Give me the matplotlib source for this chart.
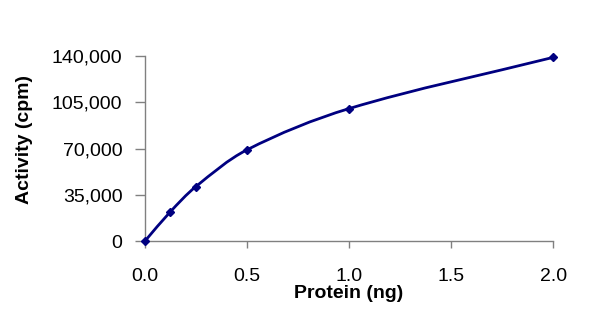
import matplotlib
matplotlib.use("Agg")
import matplotlib.pyplot as plt
import numpy as np
from matplotlib.path import Path
from matplotlib.patches import PathPatch
from matplotlib.ticker import FuncFormatter

protein = [0.0, 0.125, 0.25, 0.5, 1.0, 2.0]
activity = [0, 22200, 41200, 68900, 100000, 138600]
xticks = [0.0, 0.5, 1.0, 1.5, 2.0]
yticks = [0, 35000, 70000, 105000, 140000]

plt.rcParams['font.family'] = ['Liberation Sans', 'DejaVu Sans']
navy = '#000080'


# Smoothed line: cubic Bezier segments, tangents scaled by chord length
# (worked out in screen-like units so the curve looks even)
def smoothPath(xs, ys, sx, sy):
    pts = np.column_stack([np.array(xs) * sx, np.array(ys) * sy]).astype(float)
    n = len(pts)
    tans = []
    for i in range(n):
        d = pts[min(i + 1, n - 1)] - pts[max(i - 1, 0)]
        tans.append(d / np.hypot(*d))
    verts = [pts[0]]
    codes = [Path.MOVETO]
    for i in range(n - 1):
        L = np.hypot(*(pts[i + 1] - pts[i])) / 3.0
        verts.extend([pts[i] + tans[i] * L, pts[i + 1] - tans[i + 1] * L,
                      pts[i + 1]])
        codes.extend([Path.CURVE4] * 3)
    verts = np.array(verts) / [sx, sy]
    return Path(verts, codes)


fig = plt.figure(figsize=(6.0, 3.11), dpi=100)
ax = fig.add_axes([0.241, 0.2235, 0.681, 0.598])

ax.add_patch(PathPatch(smoothPath(protein, activity, 408 / 2.0, 186 / 140000.0),
                       facecolor='none', edgecolor=navy, lw=2, zorder=2))
ax.plot(protein, activity, linestyle='none', marker='D', ms=4,
        color=navy, zorder=3, clip_on=False)

ax.set_xlim(0, 2.0)
ax.set_ylim(0, 140000)
ax.set_xticks(xticks)
ax.set_yticks(yticks)
ax.xaxis.set_major_formatter(FuncFormatter(lambda v, p: f"{v:.1f}"))
ax.yaxis.set_major_formatter(FuncFormatter(lambda v, p: f"{int(v):,}"))

for side in ['top', 'right']:
    ax.spines[side].set_visible(False)
for side in ['left', 'bottom']:
    ax.spines[side].set_color('#808080')
    ax.spines[side].set_linewidth(1)

ax.tick_params(axis='y', length=7, width=1, color='#808080',
               labelsize=14, pad=9)
ax.tick_params(axis='x', length=5, width=1, color='#808080',
               labelsize=14, pad=14)

ax.set_xlabel('Protein (ng)', fontsize=14, fontweight='bold', labelpad=0)
ax.set_ylabel('Activity (cpm)', fontsize=14, fontweight='bold')
ax.yaxis.set_label_coords(-0.272, 0.55)

fig.savefig('out.png', dpi=100)
